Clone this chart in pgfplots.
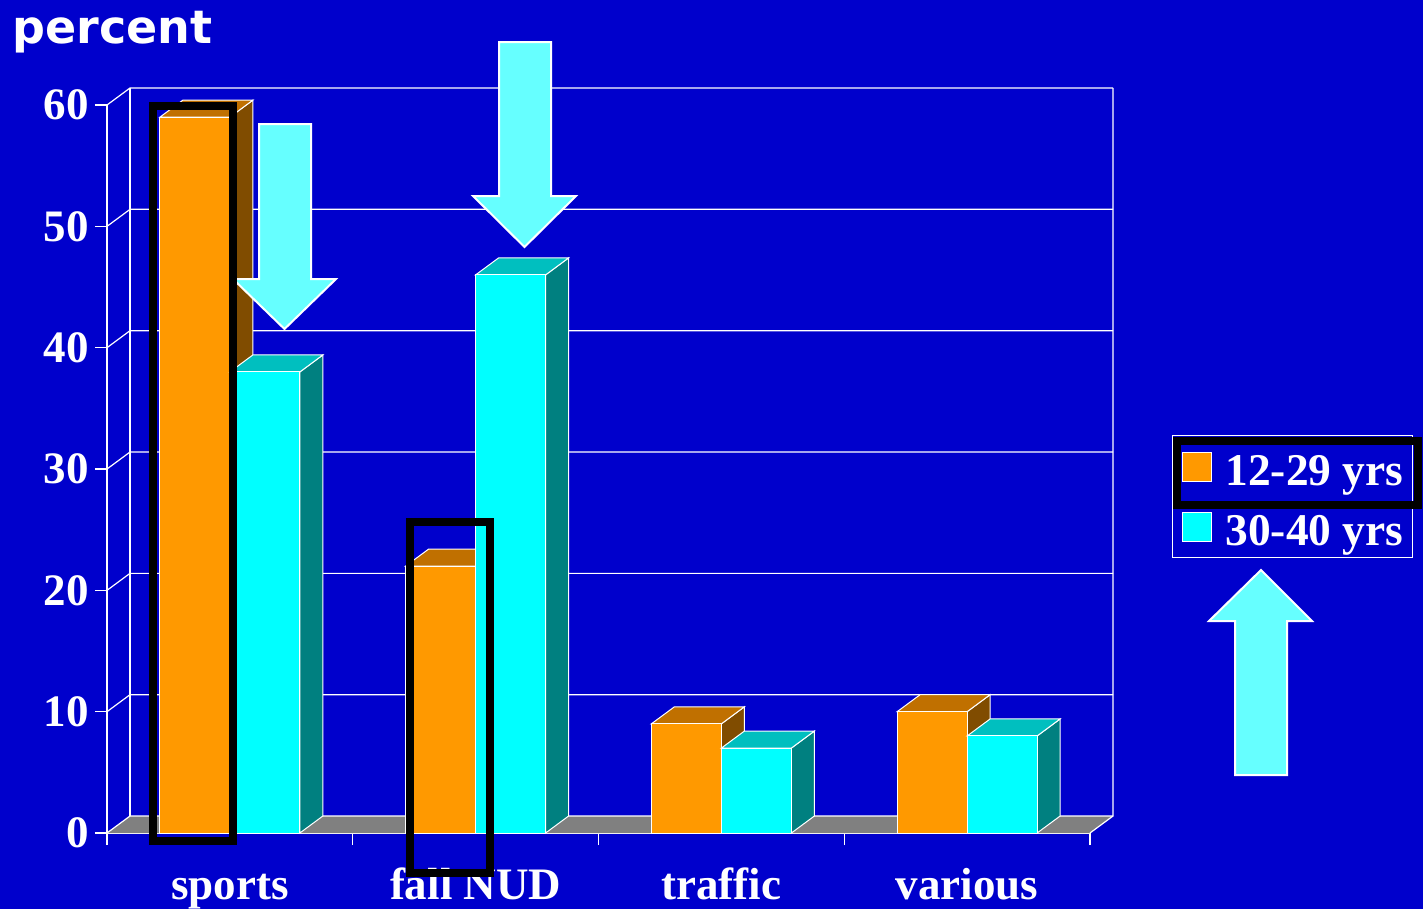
\documentclass[border=0pt]{standalone}
\usepackage{pgfplots}
\pgfplotsset{compat=1.18}
\usepackage{fontspec}
\setmainfont{Liberation Serif}
\newfontfamily\dejavu{DejaVu Sans}

\definecolor{bgblue}{RGB}{0,0,204}
\definecolor{orfront}{RGB}{255,153,0}
\definecolor{ortop}{RGB}{192,112,0}
\definecolor{orside}{RGB}{128,76,0}
\definecolor{cyfront}{RGB}{0,255,255}
\definecolor{cytop}{RGB}{0,191,191}
\definecolor{cyside}{RGB}{0,128,128}
\definecolor{floorgray}{RGB}{128,128,128}
\definecolor{arrowcyan}{RGB}{102,255,255}

\newcommand\tickfont{\fontsize{22.5pt}{22.5pt}\selectfont\bfseries}
\newcommand\legfont{\fontsize{22.7pt}{22.7pt}\selectfont\bfseries}

% bar width and depth of the 3d effect, in axis units
\def\bw{0.2848}
\def\depx{0.0936}
\def\depy{1.401}

% side and top face of one bar: #1 left x of front face, #2 value
\newcommand\topside[4]{%
  \pgfmathsetmacro\xa{#1}%
  \pgfmathsetmacro\xb{#1+\bw}%
  \pgfmathsetmacro\xc{#1+\bw+\depx}%
  \pgfmathsetmacro\xd{#1+\depx}%
  \pgfmathsetmacro\yt{#2+\depy}%
  \edef\mynext{%
    \noexpand\addplot[forget plot, draw=white, line width=0.5pt, fill=#4]
      coordinates {(\xb,0) (\xc,\depy) (\xc,\yt) (\xb,#2)} -- cycle;
    \noexpand\addplot[forget plot, draw=white, line width=0.5pt, fill=#3]
      coordinates {(\xa,#2) (\xd,\yt) (\xc,\yt) (\xb,#2)} -- cycle;
  }\mynext}

% one line of the back wall at value #1
\newcommand\wallline[1]{%
  \pgfmathsetmacro\yw{#1+\depy}%
  \edef\mynext{%
    \noexpand\draw[white, line width=0.6pt] (axis cs:-0.5,#1) -- (axis cs:-0.4064,\yw) -- (axis cs:3.5936,\yw);
  }\mynext}

\begin{document}
\begin{tikzpicture}
\begin{scope}[x=0.5pt,y=-0.5pt]
  \useasboundingbox (0,0) rectangle (1423,909);
  \fill[bgblue] (0,0) rectangle (1423,909);
  \node[anchor=base west, inner sep=0pt, text=white,
    font=\dejavu\bfseries\fontsize{23pt}{23pt}\selectfont] at (12,43) {percent};
\end{scope}

\begin{axis}[
  at={(53.5pt,-416.5pt)}, anchor=south west,
  scale only axis, width=491.5pt, height=364pt,
  xmin=-0.5, xmax=3.5, ymin=0, ymax=60,
  clip=false,
  axis x line*=bottom, axis y line*=left,
  axis line style={-, white, line width=0.6pt},
  tick style={white, line width=0.6pt},
  tick align=outside, major tick length=6pt,
  ytick={0,10,...,60},
  /pgf/number format/assume math mode=true,
  yticklabel style={font=\tickfont, text=white, inner xsep=3pt},
  xtick={-0.5,0.5,1.5,2.5,3.5}, xticklabels={},
  extra x ticks={0,1,2,3},
  extra x tick labels={sports, fall NUD, traffic, various},
  extra x tick style={major tick length=0pt},
  xticklabel style={font=\tickfont, text=white, anchor=base, yshift=-33pt},
  legend style={at={(1.0834,0.5467)}, anchor=north west, draw=white,
    line width=0.5pt, fill=none, text=white, font=\legfont,
    inner xsep=4.5pt, inner ysep=1pt, row sep=1pt, column sep=7pt,
    nodes={inner xsep=0pt, inner ysep=0pt, text height=24pt, text depth=5pt}},
  legend cell align=left,
]
% floor and back wall
\fill[floorgray] (axis cs:-0.5,0) -- (axis cs:3.5,0) -- (axis cs:3.5936,1.401)
  -- (axis cs:-0.4064,1.401) -- cycle;
\draw[white, line width=0.6pt] (axis cs:3.5,0) -- (axis cs:3.5936,1.401) -- (axis cs:3.5936,61.401);
\draw[white, line width=0.6pt] (axis cs:-0.4064,1.401) -- (axis cs:-0.4064,61.401);
\wallline{0}
\wallline{10}
\wallline{20}
\wallline{30}
\wallline{40}
\wallline{50}
\wallline{60}

% 12-29 yrs
\topside{-0.2848}{59}{ortop}{orside}
\topside{0.7152}{22}{ortop}{orside}
\topside{1.7152}{9}{ortop}{orside}
\topside{2.7152}{10}{ortop}{orside}
\addplot[ybar, bar width=0.2848, bar shift=-0.1424, fill=orfront, draw=white, line width=0.5pt,
  legend image code/.code={\draw[draw=white, line width=0.5pt, fill=orfront] (0pt,-7.25pt) rectangle (14.5pt,7.25pt);}]
  coordinates {(0,59) (1,22) (2,9) (3,10)};
\addlegendentry{12-29 yrs}

% 30-40 yrs
\topside{0}{38}{cytop}{cyside}
\topside{1}{46}{cytop}{cyside}
\topside{2}{7}{cytop}{cyside}
\topside{3}{8}{cytop}{cyside}
\addplot[ybar, bar width=0.2848, bar shift=0.1424, fill=cyfront, draw=white, line width=0.5pt,
  legend image code/.code={\draw[draw=white, line width=0.5pt, fill=cyfront] (0pt,-7.25pt) rectangle (14.5pt,7.25pt);}]
  coordinates {(0,38) (1,46) (2,7) (3,8)};
\addlegendentry{30-40 yrs}
\end{axis}

\begin{scope}[x=0.5pt,y=-0.5pt]
  % arrows
  \filldraw[fill=arrowcyan, draw=white, line width=1pt]
    (259,124) -- (311,124) -- (311,279) -- (336,279) -- (284.5,329) -- (233,279) -- (259,279) -- cycle;
  \filldraw[fill=arrowcyan, draw=white, line width=1pt]
    (499,42) -- (551,42) -- (551,196) -- (576,196) -- (524.5,247) -- (473,196) -- (499,196) -- cycle;
  \filldraw[fill=arrowcyan, draw=white, line width=1pt]
    (1235,775) -- (1287,775) -- (1287,621) -- (1312,621) -- (1261,570) -- (1209,621) -- (1235,621) -- cycle;
  % highlight frames
  \draw[black, line width=4pt] (153,106) rectangle (233,841);
  \draw[black, line width=4pt] (410,522) rectangle (489.5,873);
  \draw[black, line width=4pt] (1177,441) rectangle (1418,505);
\end{scope}
\end{tikzpicture}
\end{document}
